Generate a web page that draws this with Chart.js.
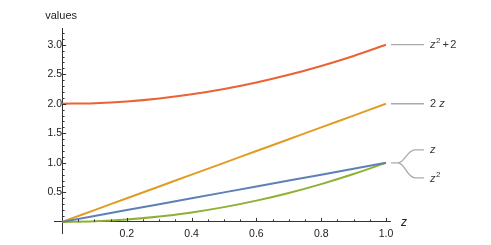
<!DOCTYPE html>
<html><head><meta charset="utf-8">
<script src="https://cdn.jsdelivr.net/npm/chart.js@4/dist/chart.umd.min.js"></script>
<style>html,body{margin:0;padding:0;background:#fff}#wrap{width:491px;height:245px;position:relative}</style>
</head><body><div id="wrap"><canvas id="c" width="491" height="245"></canvas></div>
<script>
// ---- data ----
const zSamples      = [0, 0.1, 0.2, 0.3, 0.4, 0.5, 0.6, 0.7, 0.8, 0.9, 1.0];
const seriesZ       = [0, 0.1, 0.2, 0.3, 0.4, 0.5, 0.6, 0.7, 0.8, 0.9, 1.0];
const series2Z      = [0, 0.2, 0.4, 0.6, 0.8, 1.0, 1.2, 1.4, 1.6, 1.8, 2.0];
const seriesZSq     = [0, 0.01, 0.04, 0.09, 0.16, 0.25, 0.36, 0.49, 0.64, 0.81, 1.0];
const seriesZSqP2   = [2, 2.01, 2.04, 2.09, 2.16, 2.25, 2.36, 2.49, 2.64, 2.81, 3.0];
const seriesNames   = ['z', '2 z', 'z²', 'z² + 2'];
const seriesColors  = ['#5E81B5', '#E19C24', '#8FB032', '#EB6235'];
const xTickLabels   = ['0.2', '0.4', '0.6', '0.8', '1.0'];
const yTickLabels   = ['0.5', '1.0', '1.5', '2.0', '2.5', '3.0'];
const xAxisTitle    = 'z';
const yAxisTitle    = 'values';

const allSeries = [seriesZ, series2Z, seriesZSq, seriesZSqP2];
const datasets = allSeries.map((vals, i) => ({
  label: seriesNames[i],
  data: zSamples.map((z, j) => ({x: z, y: vals[j]})),
  borderColor: seriesColors[i],
  borderWidth: 2,
  pointRadius: 0,
  fill: false,
  cubicInterpolationMode: 'monotone'
}));

const FONT = '"Liberation Sans", Arial, sans-serif';
const TEXT = '#222';

const decor = {
  id: 'decor',
  afterDraw(chart) {
    const ctx = chart.ctx, xs = chart.scales.x, ys = chart.scales.y;
    const x0 = xs.getPixelForValue(0), y0 = ys.getPixelForValue(0);
    ctx.save();
    ctx.strokeStyle = '#333';
    ctx.lineWidth = 1;
    for (let k = 1; k <= 20; k++) {
      const v = k * 0.05;
      const px = Math.round(xs.getPixelForValue(v)) + 0.5;
      const len = (k % 4 === 0) ? 4 : 2.5;
      ctx.beginPath(); ctx.moveTo(px, y0); ctx.lineTo(px, y0 - len); ctx.stroke();
    }
    for (let k = 1; k <= 32; k++) {
      const v = k * 0.1;
      const py = Math.round(ys.getPixelForValue(v)) + 0.5;
      const len = (k % 5 === 0) ? 4 : 2.5;
      ctx.beginPath(); ctx.moveTo(x0, py); ctx.lineTo(x0 + len, py); ctx.stroke();
    }
    ctx.fillStyle = TEXT;
    ctx.font = '11px ' + FONT;
    ctx.textAlign = 'center'; ctx.textBaseline = 'middle';
    ctx.fillText(yAxisTitle, x0 - 1, 16);
    ctx.font = 'italic 12px ' + FONT;
    ctx.textAlign = 'left';
    ctx.fillText(xAxisTitle, xs.right + 11, y0 + 1);

    const xe = xs.getPixelForValue(1);
    const lx0 = xe + 5, lx1 = xe + 38, tx = xe + 44;
    ctx.strokeStyle = '#aaa'; ctx.lineWidth = 1.3;
    const drawLabel = (txt, y) => {
      ctx.fillStyle = '#333';
      ctx.textBaseline = 'middle'; ctx.textAlign = 'left';
      let x = tx;
      if (txt.startsWith('2 ')) {
        ctx.font = '11px ' + FONT;
        ctx.fillText('2', x, y); x += ctx.measureText('2 ').width;
        ctx.font = 'italic 11px ' + FONT;
        ctx.fillText('z', x, y);
        return;
      }
      ctx.font = 'italic 11px ' + FONT;
      ctx.fillText('z', x, y); x += ctx.measureText('z').width;
      if (txt.indexOf('²') >= 0) {
        ctx.font = '8px ' + FONT;
        ctx.fillText('2', x + 0.5, y - 4); x += ctx.measureText('2').width + 2.5;
        const rest = txt.slice(txt.indexOf('²') + 1).trim();
        if (rest) {
          ctx.font = '11px ' + FONT;
          const parts = rest.split(' ');
          ctx.fillText(parts[0], x, y); x += ctx.measureText(parts[0]).width + 1.5;
          ctx.fillText(parts[1], x, y);
        }
      }
    };
    let y = ys.getPixelForValue(seriesZSqP2[seriesZSqP2.length - 1]);
    ctx.beginPath(); ctx.moveTo(lx0, y); ctx.lineTo(lx1, y); ctx.stroke();
    drawLabel(seriesNames[3], y);
    y = ys.getPixelForValue(series2Z[series2Z.length - 1]);
    ctx.beginPath(); ctx.moveTo(lx0, y); ctx.lineTo(lx1, y); ctx.stroke();
    drawLabel(seriesNames[1], y);
    y = ys.getPixelForValue(seriesZ[seriesZ.length - 1]);
    const yu = y - 13, yd = y + 15;
    ctx.beginPath(); ctx.moveTo(lx0, y); ctx.lineTo(lx0 + 7, y);
    ctx.bezierCurveTo(lx0 + 14, y, lx0 + 16, yu, lx0 + 24, yu); ctx.lineTo(lx1, yu); ctx.stroke();
    ctx.beginPath(); ctx.moveTo(lx0 + 7, y);
    ctx.bezierCurveTo(lx0 + 14, y, lx0 + 16, yd, lx0 + 24, yd); ctx.lineTo(lx1, yd); ctx.stroke();
    drawLabel(seriesNames[0], yu);
    drawLabel(seriesNames[2], yd + 1);
    ctx.restore();
  }
};

new Chart(document.getElementById('c'), {
  type: 'line',
  data: { datasets },
  options: {
    responsive: false,
    animation: false,
    devicePixelRatio: 1,
    layout: { padding: { left: 54, right: 101, top: 28, bottom: 7 } },
    plugins: { legend: { display: false }, tooltip: { enabled: false } },
    scales: {
      x: {
        type: 'linear',
        position: { y: 0 },
        min: -0.025, max: 1.0125,
        grid: { display: false, drawTicks: false },
        border: { display: true, color: '#333', width: 1 },
        ticks: {
          stepSize: 0.2, includeBounds: false, autoSkip: false, maxRotation: 0,
          padding: 6, color: TEXT, font: { family: FONT, size: 10.5 },
          callback: v => { const s = Number(v).toFixed(1); return xTickLabels.includes(s) ? s : ''; }
        }
      },
      y: {
        type: 'linear',
        position: { x: 0 },
        min: -0.2, max: 3.283,
        grid: { display: false, drawTicks: false },
        border: { display: true, color: '#333', width: 1 },
        ticks: {
          stepSize: 0.5, includeBounds: false, autoSkip: false,
          padding: 5, color: TEXT, font: { family: FONT, size: 10.5 },
          callback: v => { const s = Number(v).toFixed(1); return yTickLabels.includes(s) ? s : ''; }
        }
      }
    }
  },
  plugins: [decor]
});
</script>
</body></html>
